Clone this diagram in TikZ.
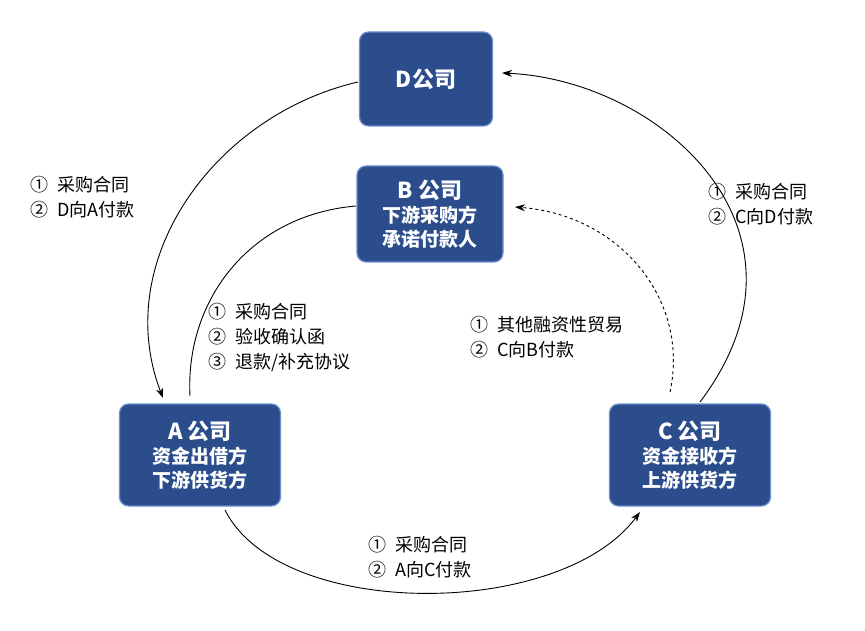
\documentclass[tikz,border=0pt]{standalone}
\usepackage{fontspec}
\setmainfont{Noto Sans CJK SC}
\usetikzlibrary{arrows.meta}
\definecolor{boxfill}{HTML}{2B4D8C}
\definecolor{boxedge}{HTML}{6E8FCB}
\newcommand{\gp}{\hspace{9pt}}
\begin{document}
\begin{tikzpicture}[x=1pt,y=-1pt,
  box/.style={draw=boxedge,line width=1.2pt,fill=boxfill,rounded corners=9pt,text=white,font=\bfseries\fontsize{19}{24}\selectfont,align=center,inner sep=0pt},
  lbl/.style={anchor=north west,align=left,font=\fontsize{18}{25}\selectfont,inner sep=0pt},
  conn/.style={line width=0.9pt,-{Stealth[length=10pt,width=7pt]}}]
\useasboundingbox (0,0) rectangle (865,631);
\node[box,minimum width=133pt,minimum height=94pt] (D) at (426,79) {\fontsize{22}{24}\selectfont D公司};
\node[box,minimum width=146pt,minimum height=96pt] (B) at (430,214) {{\fontsize{22}{26}\selectfont B 公司}\\下游采购方\\承诺付款人};
\node[box,minimum width=161pt,minimum height=102pt] (A) at (200,455) {{\fontsize{22}{26}\selectfont A 公司}\\资金出借方\\下游供货方};
\node[box,minimum width=161pt,minimum height=102pt] (C) at (690,455) {{\fontsize{22}{26}\selectfont C 公司}\\资金接收方\\上游供货方};
\coordinate (d1) at (358,82);
\coordinate (a1) at (163,398);
\draw[conn] (d1) .. controls (215,115) and (110,260) .. (a1);
\coordinate (a2) at (225,510);
\coordinate (c2) at (640,512);
\draw[conn] (a2) .. controls (280,620) and (560,620) .. (c2);
\coordinate (c3) at (700,402);
\coordinate (d3) at (502,73);
\draw[conn] (c3) .. controls (830,230) and (660,80) .. (d3);
\coordinate (a4) at (190,396);
\coordinate (b4) at (356,206);
\draw[line width=0.9pt] (a4) .. controls (185,300) and (250,215) .. (b4);
\coordinate (c5) at (670,392);
\coordinate (b5) at (515,207);
\draw[conn,dashed] (c5) .. controls (690,300) and (620,215) .. (b5);
\node[lbl] (l1) at (30,176) {①\gp 采购合同\\②\gp D向A付款};
\node[lbl] (l2) at (708,183) {①\gp 采购合同\\②\gp C向D付款};
\node[lbl] (l3) at (208,303) {①\gp 采购合同\\②\gp 验收确认函\\③\gp 退款/补充协议};
\node[lbl] (l4) at (470,316) {①\gp 其他融资性贸易\\②\gp C向B付款};
\node[lbl] (l5) at (368,536) {①\gp 采购合同\\②\gp A向C付款};
\end{tikzpicture}
\end{document}
